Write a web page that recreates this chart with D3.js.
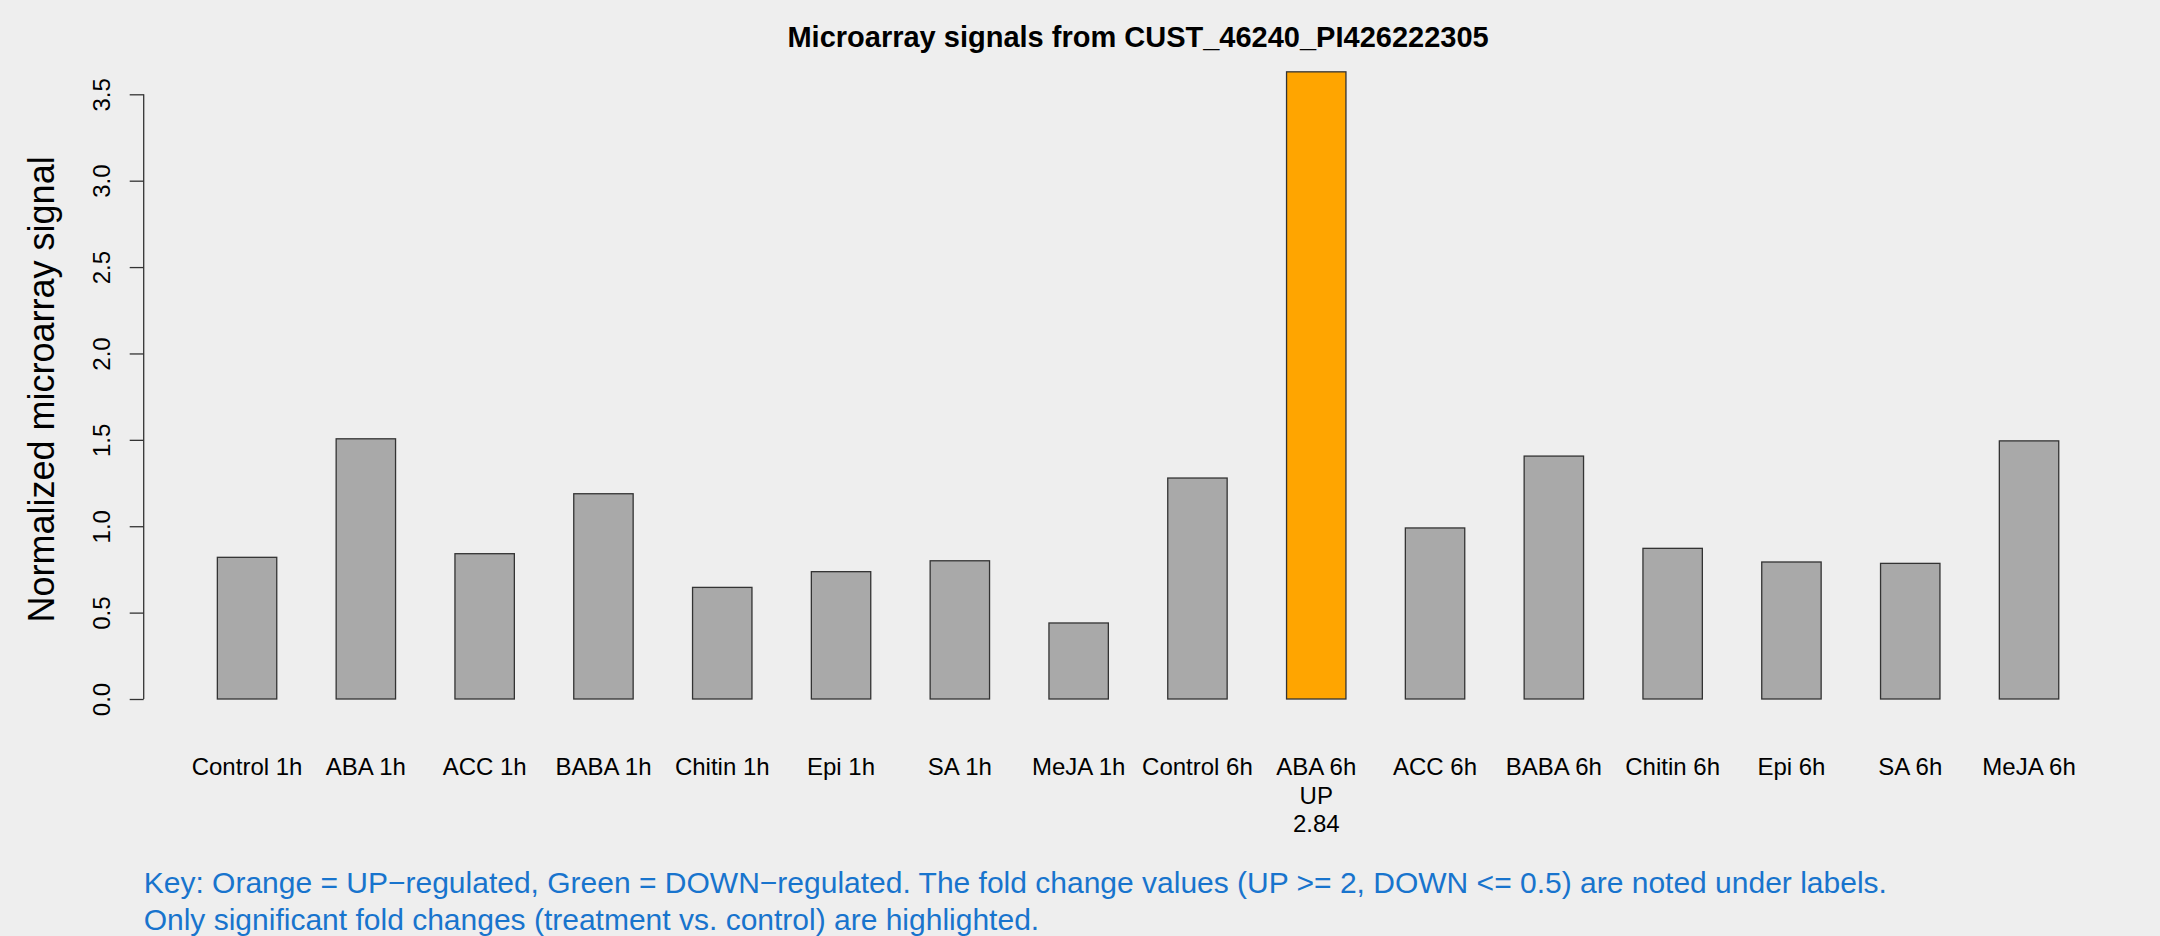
<!DOCTYPE html>
<html><head><meta charset="utf-8">
<script src="https://cdn.jsdelivr.net/npm/d3@7"></script>
<style>html,body{margin:0;padding:0;background:#eeeeee;}svg{display:block;}</style>
</head><body>
<svg id="chart" width="2160" height="936"></svg>
<script>
const categories = ["Control 1h","ABA 1h","ACC 1h","BABA 1h","Chitin 1h","Epi 1h","SA 1h","MeJA 1h",
  "Control 6h","ABA 6h","ACC 6h","BABA 6h","Chitin 6h","Epi 6h","SA 6h","MeJA 6h"];
const values = [0.82,1.506,0.841,1.188,0.646,0.737,0.80,0.44,1.279,3.63,0.99,1.406,0.872,0.793,0.785,1.494];
const regulation = ["","","","","","","","","","UP","","","","","",""];
const foldChange = ["","","","","","","","","","2.84","","","","","",""];
const yTicks = [0,0.5,1,1.5,2,2.5,3,3.5];
const title = "Microarray signals from CUST_46240_PI426222305";
const yLabel = "Normalized microarray signal";
const keyLines = ["Key: Orange = UP\u2212regulated, Green = DOWN\u2212regulated. The fold change values (UP >= 2, DOWN <= 0.5) are noted under labels.",
  "Only significant fold changes (treatment vs. control) are highlighted."];

const svg = d3.select("#chart");
const font = "'Liberation Sans', Arial, Helvetica, sans-serif";
const left = 143.7, right = 2132.4;
// R barplot: bars at [1+2i, 2+2i], xlim [1,32] extended 4%
const x = d3.scaleLinear().domain([-0.24, 33.24]).range([left, right]);
const y = d3.scaleLinear().domain([0, 3.5]).range([699, 94.3]);

svg.append("rect").attr("width",2160).attr("height",936).attr("fill","#eeeeee");

svg.append("g").selectAll("rect").data(values).join("rect")
  .attr("x",(d,i)=>x(1+2*i)).attr("width",(d,i)=>x(2+2*i)-x(1+2*i))
  .attr("y",d=>y(d)).attr("height",d=>y(0)-y(d))
  .attr("fill",(d,i)=>regulation[i]==="UP"?"#FFA500":(regulation[i]==="DOWN"?"#00A000":"#A9A9A9"))
  .attr("stroke","#333").attr("stroke-width",1.3);

// y axis
const ax = svg.append("g").attr("transform",`translate(${left},0)`)
  .call(d3.axisLeft(y).tickValues(yTicks).tickSize(14).tickFormat(d3.format(".1f")));
ax.select(".domain").attr("stroke","#333").attr("stroke-width",1.3).attr("d",`M0,${y(0)}V${y(3.5)}`);
ax.selectAll(".tick line").attr("stroke","#333").attr("stroke-width",1.3);
ax.selectAll(".tick text").attr("font-family",font).attr("font-size",24).attr("fill","#000")
  .attr("transform","rotate(-90)").attr("x",0).attr("y",-34).attr("dy",0).attr("text-anchor","middle");

// x labels
const xl = svg.append("g").attr("font-family",font).attr("font-size",24).attr("text-anchor","middle");
categories.forEach((c,i)=>{
  const cx = x(1.5+2*i);
  xl.append("text").attr("x",cx).attr("y",775).text(c);
  if (regulation[i]) xl.append("text").attr("x",cx).attr("y",803.5).text(regulation[i]);
  if (foldChange[i]) xl.append("text").attr("x",cx).attr("y",832).text(foldChange[i]);
});

svg.append("text").attr("x",(left+right)/2).attr("y",46.5).attr("text-anchor","middle")
  .attr("font-family",font).attr("font-size",29).attr("font-weight","bold").text(title);

svg.append("text").attr("transform",`translate(53.6,${(y(3.775)+y(-0.145))/2 + 4}) rotate(-90)`)
  .attr("text-anchor","middle").attr("font-family",font).attr("font-size",36).text(yLabel);

svg.append("g").selectAll("text").data(keyLines).join("text")
  .attr("x",left).attr("y",(d,i)=>893.3+i*36.7).attr("font-family",font).attr("font-size",30)
  .attr("fill","#1874CD").text(d=>d);
</script>
</body></html>
